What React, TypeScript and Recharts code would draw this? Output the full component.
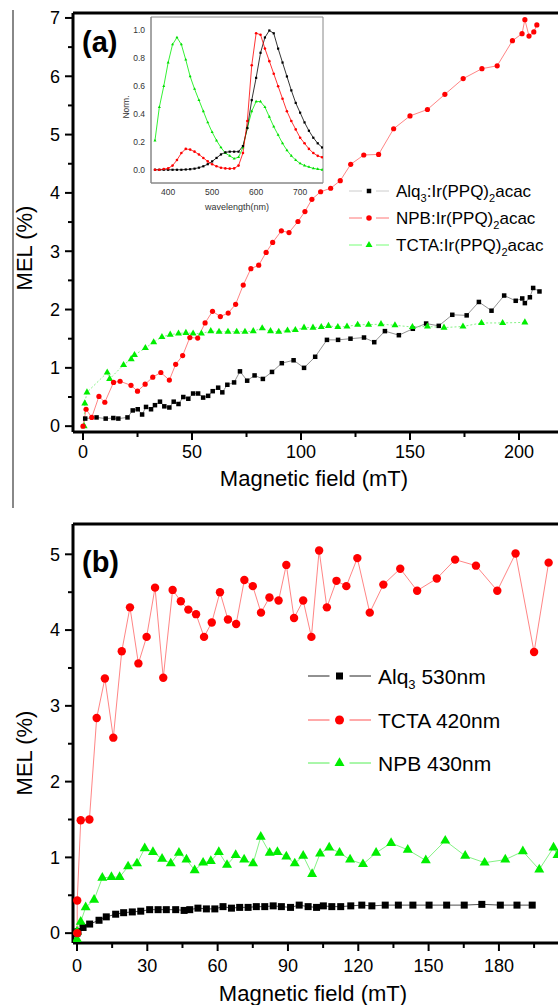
import React from "react";
import { LineChart, Line, XAxis, YAxis, ReferenceLine, ReferenceArea } from "recharts";

// panel (a): MEL (%) against magnetic field (mT), pairs of [field, MEL]
const alqA: [number, number][] = [
  [1, 0.13], [6.2, 0.15], [10.4, 0.13], [13.9, 0.14], [16.2, 0.13], [20.4, 0.15], [22.8, 0.27], [25.1, 0.29],
  [27.1, 0.2], [28.9, 0.33], [31.2, 0.29], [33, 0.36], [35.3, 0.42], [37.3, 0.34], [39.6, 0.32], [41.6, 0.42],
  [43.8, 0.38], [46, 0.5], [48.3, 0.47], [50.5, 0.56], [52.8, 0.56], [55.1, 0.49], [57.4, 0.52], [59.5, 0.6],
  [62, 0.66], [63.9, 0.58], [66.2, 0.71], [69.3, 0.75], [72, 0.94], [75.3, 0.78], [78.7, 0.87], [82.5, 0.81],
  [86.7, 0.93], [91.2, 1.08], [96.6, 1.13], [101.4, 1.0], [106.5, 1.19], [111.9, 1.48], [117, 1.48], [122.7, 1.5],
  [128.9, 1.52], [133.6, 1.44], [138.5, 1.63], [144.9, 1.56], [151.3, 1.67], [157.4, 1.76], [163.2, 1.72],
  [169.4, 1.91], [176, 1.9], [181.6, 2.13], [187.4, 1.98], [193.2, 2.24], [198.5, 2.15], [201.5, 2.19],
  [202.7, 2.11], [205, 2.21], [206.5, 2.37], [209.4, 2.31],
];
const npbA: [number, number][] = [
  [0, 0], [1.4, 0.29], [4, 0.15], [7.3, 0.51], [10, 0.41], [14, 0.75], [17, 0.77], [22, 0.7], [25, 0.6],
  [28.5, 0.72], [32, 0.84], [35.7, 0.92], [39.6, 0.79], [42.5, 1.06], [45.7, 1.21], [49, 1.52], [52.6, 1.51],
  [56, 1.77], [59.4, 1.97], [63, 1.88], [66.6, 1.94], [70, 2.09], [73.5, 2.42], [77, 2.7], [80.6, 2.76],
  [84, 2.98], [87, 3.15], [91, 3.35], [94.5, 3.32], [98.6, 3.51], [101.8, 3.68], [105, 3.89], [109, 4.02],
  [113.6, 4.08], [118, 4.21], [122.8, 4.49], [128.8, 4.65], [135.6, 4.66], [142.5, 5.1], [150, 5.32],
  [158, 5.43], [166, 5.69], [174.4, 5.96], [183, 6.13], [190, 6.18], [197, 6.61], [201.4, 6.73],
  [202.7, 6.97], [204.6, 6.69], [206.8, 6.76], [208.2, 6.88],
];
const tctaA: [number, number][] = [
  [0.5, 0.0], [0.8, 0.39], [1.8, 0.58], [11.1, 0.92], [12.2, 0.81], [18.6, 1.05], [22.1, 1.15], [23.6, 1.22],
  [28.6, 1.34], [32.4, 1.44], [36.2, 1.53], [40, 1.57], [43.8, 1.59], [47.2, 1.6], [50.5, 1.59], [54.3, 1.59],
  [58.6, 1.63], [62.4, 1.62], [66.5, 1.62], [70.5, 1.62], [74.3, 1.62], [78.1, 1.63], [82.2, 1.68], [86, 1.63],
  [89.8, 1.62], [93.8, 1.64], [97.4, 1.65], [101.4, 1.69], [105.5, 1.69], [109.3, 1.7], [112.6, 1.72],
  [116.9, 1.7], [121.1, 1.71], [126, 1.74], [131, 1.74], [136.7, 1.75], [143.1, 1.73], [151.1, 1.7],
  [158, 1.71], [165.6, 1.69], [174.3, 1.71], [182.8, 1.77], [192.5, 1.77], [202.7, 1.78],
];
const xTicksA = [0, 25, 50, 75, 100, 125, 150, 175, 200];
const yTicksA = [0, 0.5, 1, 1.5, 2, 2.5, 3, 3.5, 4, 4.5, 5, 5.5, 6, 6.5, 7];

// inset: normalised EL spectra
const wavelength = [370, 380, 390, 400, 410, 420, 430, 440, 450, 460, 470, 480, 490, 500, 510, 520, 530, 540, 550,
  560, 570, 580, 590, 600, 610, 620, 630, 640, 650, 660, 670, 680, 690, 700, 710, 720, 730, 740, 750];
const specAlq = [0, 0, 0, 0, 0, 0, 0, 0.002, 0.004, 0.008, 0.015, 0.025, 0.04, 0.06, 0.085, 0.11, 0.125, 0.13, 0.13,
  0.13, 0.17, 0.3, 0.5, 0.66, 0.84, 0.95, 1.0, 0.98, 0.87, 0.77, 0.67, 0.57, 0.48, 0.41, 0.34, 0.28, 0.23, 0.19, 0.16];
const specNpb = [0, 0, 0.005, 0.01, 0.03, 0.07, 0.12, 0.15, 0.145, 0.13, 0.11, 0.085, 0.06, 0.04, 0.025, 0.015, 0.01, 0.008, 0.01,
  0.03, 0.12, 0.35, 0.75, 0.98, 0.97, 0.87, 0.78, 0.69, 0.6, 0.51, 0.42, 0.35, 0.29, 0.23, 0.19, 0.15, 0.12, 0.1, 0.09];
const specTcta = [0.21, 0.45, 0.6, 0.77, 0.9, 0.95, 0.9, 0.79, 0.67, 0.58, 0.5, 0.42, 0.34, 0.27, 0.21, 0.16, 0.12, 0.1, 0.08,
  0.09, 0.16, 0.3, 0.42, 0.49, 0.49, 0.45, 0.38, 0.31, 0.25, 0.19, 0.14, 0.1, 0.07, 0.045, 0.03, 0.02, 0.01, 0.005, 0];
const insetXTicks = [400, 500, 600, 700];
const insetYTicks = [0, 0.2, 0.4, 0.6, 0.8, 1.0];

// panel (b)
const alqB: [number, number][] = [
  [0, 0], [0.4, 0.02], [2.6, 0.075], [5.4, 0.12], [9.4, 0.17], [12.5, 0.215], [16.5, 0.25], [19.9, 0.27],
  [23.6, 0.28], [27.2, 0.29], [31, 0.31], [34.6, 0.31], [38.1, 0.31], [42.1, 0.31], [45.7, 0.3], [48.1, 0.31],
  [51.6, 0.33], [55.2, 0.32], [58.8, 0.32], [62.3, 0.35], [65.9, 0.33], [69.4, 0.34], [73, 0.34], [76.5, 0.35],
  [80.1, 0.35], [83.7, 0.36], [87.2, 0.35], [91.1, 0.34], [94.8, 0.37], [98.6, 0.35], [102.2, 0.34],
  [105.1, 0.36], [108.7, 0.35], [112.5, 0.35], [116.8, 0.36], [121.5, 0.37], [125.8, 0.36], [131.5, 0.37],
  [137.1, 0.37], [143.3, 0.37], [150.2, 0.37], [157.7, 0.37], [165.2, 0.37], [172.7, 0.38], [180.6, 0.37],
  [187.7, 0.37], [194.2, 0.37],
];
const tctaB: [number, number][] = [
  [0.1, 0.0], [0.1, 0.43], [1.6, 1.49], [5.3, 1.5], [8.4, 2.84], [11.9, 3.36], [15.5, 2.58], [19.1, 3.72],
  [22.6, 4.3], [26.2, 3.56], [29.7, 3.91], [33.3, 4.56], [36.8, 3.37], [40.8, 4.53], [44.3, 4.38], [47.5, 4.27],
  [50.8, 4.21], [54.2, 3.91], [57.5, 4.1], [61, 4.5], [64.4, 4.14], [67.9, 4.08], [71.4, 4.66], [75, 4.58],
  [78.5, 4.23], [82.1, 4.43], [86, 4.39], [89.3, 4.86], [92.6, 4.16], [96.5, 4.39], [100, 3.91], [103.3, 5.05],
  [106.6, 4.3], [110.7, 4.65], [114.9, 4.58], [119.6, 4.95], [124.9, 4.23], [130.7, 4.6], [137.9, 4.81],
  [145.1, 4.52], [153.5, 4.68], [161.3, 4.93], [170.2, 4.85], [179.3, 4.52], [187.1, 5.01], [195, 3.71],
  [201.2, 4.89],
];
const npbB: [number, number][] = [
  [0, -0.08], [0, 0.02], [1.6, 0.15], [3.7, 0.34], [7.3, 0.44], [10.8, 0.73], [14.7, 0.74], [18.2, 0.74],
  [21.8, 0.88], [25.6, 0.92], [28.9, 1.12], [32.4, 1.07], [36.3, 0.98], [40, 0.92], [43.5, 1.06], [46.7, 0.97],
  [50.2, 0.83], [53.8, 0.93], [57.1, 0.95], [60.5, 1.07], [64, 0.9], [67.7, 1.03], [71.3, 0.97], [75.1, 0.92],
  [78.4, 1.27], [82.2, 1.06], [85.5, 1.07], [89.3, 1.01], [92.9, 0.92], [96.5, 1.02], [100.3, 0.78],
  [103.7, 1.05], [107.6, 1.13], [112, 1.06], [116.5, 0.97], [122, 0.91], [127.6, 1.06], [134, 1.19],
  [141.1, 1.1], [148.8, 0.96], [157.1, 1.22], [165.6, 1.02], [173.9, 0.93], [182.7, 0.97], [190.2, 1.08],
  [197.2, 0.84], [203.3, 1.13], [205, 1.03],
];
const xTicksB = [0, 15, 30, 45, 60, 75, 90, 105, 120, 135, 150, 165, 180, 195];
const yTicksB = [0, 0.5, 1, 1.5, 2, 2.5, 3, 3.5, 4, 4.5, 5];

// legend labels: [text, isSubscript]
const legendA: [string, boolean][][] = [
  [["Alq", false], ["3", true], [":Ir(PPQ)", false], ["2", true], ["acac", false]],
  [["NPB:Ir(PPQ)", false], ["2", true], ["acac", false]],
  [["TCTA:Ir(PPQ)", false], ["2", true], ["acac", false]],
];
const legendB: [string, boolean][][] = [
  [["Alq", false], ["3", true], [" 530nm", false]],
  [["TCTA 420nm", false]],
  [["NPB 430nm", false]],
];

const FONT = "'Liberation Sans', Arial, Helvetica, sans-serif";

const toPts = (pairs: [number, number][]) => pairs.map(([field, mel]) => ({ field, mel }));
const spectrum = (vals: number[]) => wavelength.map((wl, i) => ({ wl, v: vals[i] }));

const isMajor = (v: number, step: number) => Math.abs(v / step - Math.round(v / step)) < 1e-6;

const xTick = (step: number, dy: number) => (p: any) => {
  const { x, y, payload } = p;
  const major = isMajor(payload.value, step);
  return (
    <g>
      <line x1={x} x2={x} y1={y} y2={y + (major ? 8 : 5)} stroke="#000" strokeWidth={2} />
      {major && (
        <text x={x} y={y + dy} textAnchor="middle" fontSize={18} fill="#000">{payload.value}</text>
      )}
    </g>
  );
};

const yTick = (p: any) => {
  const { x, y, payload } = p;
  const major = isMajor(payload.value, 1);
  return (
    <g>
      <line x1={x} x2={x - (major ? 8 : 5)} y1={y} y2={y} stroke="#000" strokeWidth={2} />
      {major && (
        <text x={x - 13} y={y} dy="0.35em" textAnchor="end" fontSize={18} fill="#000">{payload.value}</text>
      )}
    </g>
  );
};

const squareDot = (s: number, fill: string) => (p: any) => (
  <rect key={`s${p.index}`} x={p.cx - s / 2} y={p.cy - s / 2} width={s} height={s} fill={fill} />
);
const circleDot = (r: number, fill: string) => (p: any) => (
  <circle key={`c${p.index}`} cx={p.cx} cy={p.cy} r={r} fill={fill} />
);
const triPoints = (cx: number, cy: number, s: number) => {
  const h = s * 0.87;
  return `${cx},${cy - (h * 2) / 3} ${cx - s / 2},${cy + h / 3} ${cx + s / 2},${cy + h / 3}`;
};
const triDot = (s: number, fill: string) => (p: any) => (
  <polygon key={`t${p.index}`} points={triPoints(p.cx, p.cy, s)} fill={fill} />
);

const Marker = ({ kind, cx, cy, s, fill }: any) =>
  kind === "square" ? <rect x={cx - s / 2} y={cy - s / 2} width={s} height={s} fill={fill} />
    : kind === "circle" ? <circle cx={cx} cy={cy} r={s / 2} fill={fill} />
      : <polygon points={triPoints(cx, cy, s)} fill={fill} />;

const LegendRow = ({ x, y, w, gap, kind, s, fill, line, fontSize, subSize, parts }: any) => {
  let shifted = 0;
  return (
    <g>
      <line x1={x} x2={x + w / 2 - gap} y1={y} y2={y} stroke={line} strokeWidth={1} />
      <line x1={x + w / 2 + gap} x2={x + w} y1={y} y2={y} stroke={line} strokeWidth={1} />
      <Marker kind={kind} cx={x + w / 2} cy={y} s={s} fill={fill} />
      <text x={x + w + 7} y={y + fontSize * 0.36} fontSize={fontSize} fill="#000">
        {parts.map(([t, sub]: [string, boolean], i: number) => {
          const target = sub ? 5 : 0;
          const dy = target - shifted;
          shifted = target;
          return (
            <tspan key={i} dy={dy} fontSize={sub ? subSize : fontSize}>{t}</tspan>
          );
        })}
      </text>
    </g>
  );
};

const insetTickX = (p: any) => (
  <text x={p.x} y={p.y + 12} textAnchor="middle" fontSize={8.5} fill="#333">{p.payload.value}</text>
);
const insetTickY = (p: any) => (
  <text x={p.x - 6} y={p.y} dy="0.35em" textAnchor="end" fontSize={8.5} fill="#333">{p.payload.value.toFixed(1)}</text>
);

const PanelA = () => (
  <LineChart width={558} height={500} margin={{ top: 13, right: 0, left: 13, bottom: 18 }}>
    <XAxis type="number" dataKey="field" domain={[-4.6, 217.9]} allowDataOverflow ticks={xTicksA} interval={0}
      tickSize={0} tickMargin={0} tick={xTick(50, 25.5)} tickLine={false} height={50}
      axisLine={{ stroke: "#000", strokeWidth: 3 }} />
    <YAxis type="number" dataKey="mel" domain={[-0.1, 7.085]} allowDataOverflow ticks={yTicksA} interval={0}
      tickSize={0} tickMargin={0} tick={yTick} tickLine={false} width={60}
      axisLine={{ stroke: "#000", strokeWidth: 3 }} />
    <ReferenceLine y={7.085} stroke="#000" strokeWidth={3} />
    <Line data={toPts(alqA)} dataKey="mel" stroke="#777" strokeWidth={0.8} dot={squareDot(4.5, "#000")}
      activeDot={false} isAnimationActive={false} />
    <Line data={toPts(tctaA)} dataKey="mel" stroke="#66ee66" strokeWidth={0.8} strokeDasharray="2 2"
      dot={triDot(7, "#00ee00")} activeDot={false} isAnimationActive={false} />
    <Line data={toPts(npbA)} dataKey="mel" stroke="#ff6666" strokeWidth={0.8} dot={circleDot(2.6, "#ff0000")}
      activeDot={false} isAnimationActive={false} />
    <text x={82} y={52} fontSize={29} fontWeight="bold" fill="#000">(a)</text>
    <text x={314} y={486} textAnchor="middle" fontSize={22} fill="#000">Magnetic field (mT)</text>
    <text x={32} y={248} transform="rotate(-90 32 248)" textAnchor="middle" fontSize={22} fill="#000">MEL (%)</text>
    <LegendRow x={349} y={191} w={40} gap={7} kind="square" s={4.5} fill="#000" line="#cccccc"
      fontSize={17} subSize={11} parts={legendA[0]} />
    <LegendRow x={349} y={218} w={40} gap={7} kind="circle" s={5.5} fill="#ff0000" line="#ff7777"
      fontSize={17} subSize={11} parts={legendA[1]} />
    <LegendRow x={349} y={245} w={40} gap={7} kind="tri" s={7} fill="#00ee00" line="#77ff77"
      fontSize={17} subSize={11} parts={legendA[2]} />
  </LineChart>
);

const Inset = () => (
  <LineChart width={230} height={215} margin={{ top: 12, right: 7, left: 21, bottom: 7 }}>
    <XAxis type="number" dataKey="wl" domain={[361, 752]} allowDataOverflow ticks={insetXTicks} interval={0}
      tickSize={0} tickMargin={0} tick={insetTickX} tickLine={false} height={30}
      axisLine={{ stroke: "#888", strokeWidth: 1 }} />
    <YAxis type="number" dataKey="v" domain={[-0.095, 1.097]} allowDataOverflow ticks={insetYTicks} interval={0}
      tickSize={0} tickMargin={0} tick={insetTickY} tickLine={false} width={30}
      axisLine={{ stroke: "#888", strokeWidth: 1 }} />
    <ReferenceArea x1={361} x2={752} y1={-0.095} y2={1.097} fill="none" stroke="#888" strokeWidth={1} />
    <Line data={spectrum(specTcta)} dataKey="v" stroke="#00ee00" strokeWidth={0.8} dot={triDot(3, "#00dd00")}
      activeDot={false} isAnimationActive={false} />
    <Line data={spectrum(specAlq)} dataKey="v" stroke="#000" strokeWidth={0.8} dot={squareDot(2.2, "#000")}
      activeDot={false} isAnimationActive={false} />
    <Line data={spectrum(specNpb)} dataKey="v" stroke="#ff0000" strokeWidth={0.8} dot={circleDot(1.3, "#ff0000")}
      activeDot={false} isAnimationActive={false} />
    <text x={137} y={205} textAnchor="middle" fontSize={9} fill="#333">wavelength(nm)</text>
    <text x={29} y={102} transform="rotate(-90 29 102)" textAnchor="middle" fontSize={8.5} fill="#333">Norm.</text>
  </LineChart>
);

const PanelB = () => (
  <LineChart width={558} height={505} margin={{ top: 24, right: 0, left: 13, bottom: 12 }}>
    <XAxis type="number" dataKey="field" domain={[-1.7, 205.2]} allowDataOverflow ticks={xTicksB} interval={0}
      tickSize={0} tickMargin={0} tick={xTick(30, 28.5)} tickLine={false} height={50}
      axisLine={{ stroke: "#000", strokeWidth: 3 }} />
    <YAxis type="number" dataKey="mel" domain={[-0.13, 5.4]} allowDataOverflow ticks={yTicksB} interval={0}
      tickSize={0} tickMargin={0} tick={yTick} tickLine={false} width={60}
      axisLine={{ stroke: "#000", strokeWidth: 3 }} />
    <ReferenceLine y={5.4} stroke="#000" strokeWidth={3} />
    <Line data={toPts(alqB)} dataKey="mel" stroke="#222" strokeWidth={0.8} dot={squareDot(7, "#000")}
      activeDot={false} isAnimationActive={false} />
    <Line data={toPts(npbB)} dataKey="mel" stroke="#66ee66" strokeWidth={0.8} dot={triDot(10, "#00ee00")}
      activeDot={false} isAnimationActive={false} />
    <Line data={toPts(tctaB)} dataKey="mel" stroke="#ff6666" strokeWidth={0.8} dot={circleDot(4.2, "#ff0000")}
      activeDot={false} isAnimationActive={false} />
    <text x={82} y={72} fontSize={29} fontWeight="bold" fill="#000">(b)</text>
    <text x={313} y={501} textAnchor="middle" fontSize={22} fill="#000">Magnetic field (mT)</text>
    <text x={32} y={253} transform="rotate(-90 32 253)" textAnchor="middle" fontSize={22} fill="#000">MEL (%)</text>
    <LegendRow x={308} y={176} w={63} gap={10} kind="square" s={7} fill="#000" line="#222"
      fontSize={21} subSize={13} parts={legendB[0]} />
    <LegendRow x={308} y={220} w={63} gap={10} kind="circle" s={9} fill="#ff0000" line="#ff5555"
      fontSize={21} subSize={13} parts={legendB[1]} />
    <LegendRow x={308} y={263} w={63} gap={10} kind="tri" s={10} fill="#00ee00" line="#55ee55"
      fontSize={21} subSize={13} parts={legendB[2]} />
  </LineChart>
);

export default function App() {
  return (
    <div style={{ position: "absolute", left: 0, top: 0, width: 558, height: 1005, overflow: "hidden",
      background: "#fff", fontFamily: FONT }}>
      <div style={{ position: "absolute", left: 12, top: 10, width: 2, height: 498, background: "#888" }} />
      <div style={{ position: "absolute", left: 0, top: 0 }}><PanelA /></div>
      <div style={{ position: "absolute", left: 100, top: 5 }}><Inset /></div>
      <div style={{ position: "absolute", left: 0, top: 500 }}><PanelB /></div>
    </div>
  );
}
